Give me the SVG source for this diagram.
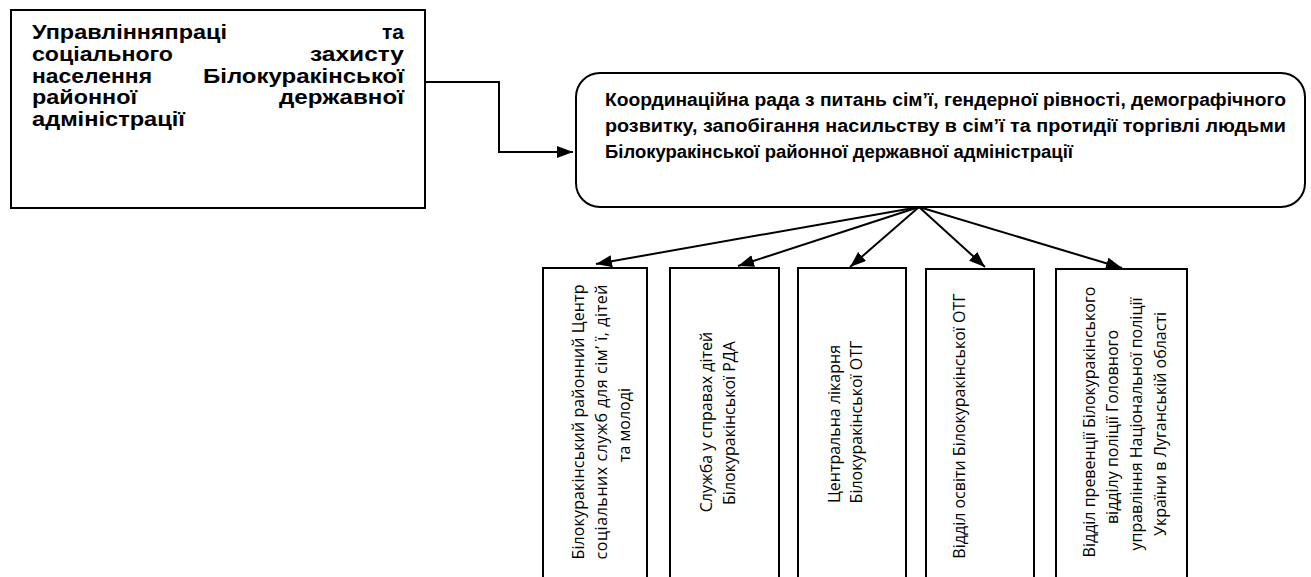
<svg xmlns="http://www.w3.org/2000/svg" width="1311" height="577" viewBox="0 0 1311 577">
<style>
.box{fill:#fff;stroke:#000;stroke-width:2}
.conn{fill:none;stroke:#000;stroke-width:2}
.t1{font-family:"Liberation Sans",Arial,sans-serif;font-weight:bold;font-size:21px;fill:#000}
.t2{font-family:"Liberation Sans",Arial,sans-serif;font-weight:bold;font-size:17.5px;fill:#000}
.tv{font-family:"Open Sans","Noto Sans",sans-serif;font-size:16px;fill:#000;text-anchor:middle}
</style>
<defs>
<marker id="arr" markerUnits="userSpaceOnUse" markerWidth="17" markerHeight="13" refX="16" refY="6" orient="auto">
<path d="M0,0 L16,6 L0,12 z" fill="#000"/>
</marker>
</defs>
<rect width="1311" height="577" fill="#fff"/>
<g id="connectors">
<polyline class="conn" points="425,82 499,82 499,152 573,152" marker-end="url(#arr)"/>
<line class="conn" x1="919" y1="207" x2="596" y2="264" marker-end="url(#arr)"/>
<line class="conn" x1="919" y1="207" x2="738" y2="266" marker-end="url(#arr)"/>
<line class="conn" x1="919" y1="207" x2="850" y2="267" marker-end="url(#arr)"/>
<line class="conn" x1="919" y1="207" x2="985" y2="267" marker-end="url(#arr)"/>
<line class="conn" x1="919" y1="207" x2="1122" y2="268" marker-end="url(#arr)"/>
</g>
<g id="node-upravlinnia">
<rect class="box" x="11" y="10" width="414" height="198"/>
<text class="t1" x="32" y="39" textLength="195" lengthAdjust="spacingAndGlyphs">Управлінняпраці</text>
<text class="t1" x="404" y="39" text-anchor="end">та</text>
<text class="t1" x="32" y="61" textLength="141" lengthAdjust="spacingAndGlyphs">соціального</text>
<text class="t1" x="310" y="61" textLength="94" lengthAdjust="spacingAndGlyphs">захисту</text>
<text class="t1" x="32" y="83" textLength="120" lengthAdjust="spacingAndGlyphs">населення</text>
<text class="t1" x="203" y="83" textLength="201" lengthAdjust="spacingAndGlyphs">Білокуракінської</text>
<text class="t1" x="32" y="104" textLength="105" lengthAdjust="spacingAndGlyphs">районної</text>
<text class="t1" x="279" y="104" textLength="125" lengthAdjust="spacingAndGlyphs">державної</text>
<text class="t1" x="32" y="126" textLength="153" lengthAdjust="spacingAndGlyphs">адміністрації</text>
</g>
<g id="node-rada">
<rect class="box" x="576" y="73" width="729" height="134" rx="24" ry="24"/>
<text class="t2" x="605" y="106" textLength="681" lengthAdjust="spacingAndGlyphs">Координаційна рада з питань сім’ї, гендерної рівності, демографічного</text>
<text class="t2" x="605" y="132" textLength="681" lengthAdjust="spacingAndGlyphs">розвитку, запобігання насильству в сім’ї та протидії торгівлі людьми</text>
<text class="t2" x="605" y="158" textLength="468" lengthAdjust="spacingAndGlyphs">Білокуракінської районної державної адміністрації</text>
</g>
<g id="node-centr">
<rect class="box" x="543" y="268" width="104" height="330"/>
<text class="tv" transform="translate(584,422) rotate(-90)" textLength="275">Білокуракінський  районний Центр</text>
<text class="tv" transform="translate(607,422) rotate(-90)" textLength="275">соціальних служб для сім’   ї, дітей</text>
<text class="tv" transform="translate(630,425) rotate(-90)">та молоді</text>
</g>
<g id="node-sluzhba">
<rect class="box" x="670" y="268" width="109" height="330"/>
<text class="tv" transform="translate(712,422) rotate(-90)">Служба у справах дітей</text>
<text class="tv" transform="translate(735,423) rotate(-90)">Білокуракінської РДА</text>
</g>
<g id="node-likarnia">
<rect class="box" x="798" y="268" width="108" height="330"/>
<text class="tv" transform="translate(840,424) rotate(-90)">Центральна лікарня</text>
<text class="tv" transform="translate(862,422) rotate(-90)">Білокуракінської  ОТГ</text>
</g>
<g id="node-osvita">
<rect class="box" x="926" y="269" width="108" height="330"/>
<text class="tv" transform="translate(965,426) rotate(-90)">Відділ освіти Білокуракінської ОТГ</text>
</g>
<g id="node-politsiia">
<rect class="box" x="1056" y="269" width="131" height="330"/>
<text class="tv" transform="translate(1095,422) rotate(-90)">Відділ превенції  Білокуракінського</text>
<text class="tv" transform="translate(1118,427) rotate(-90)">відділу поліції Головного</text>
<text class="tv" transform="translate(1142,424) rotate(-90)">управління Національної поліції</text>
<text class="tv" transform="translate(1166,424) rotate(-90)">України в Луганській  області</text>
</g>
</svg>
